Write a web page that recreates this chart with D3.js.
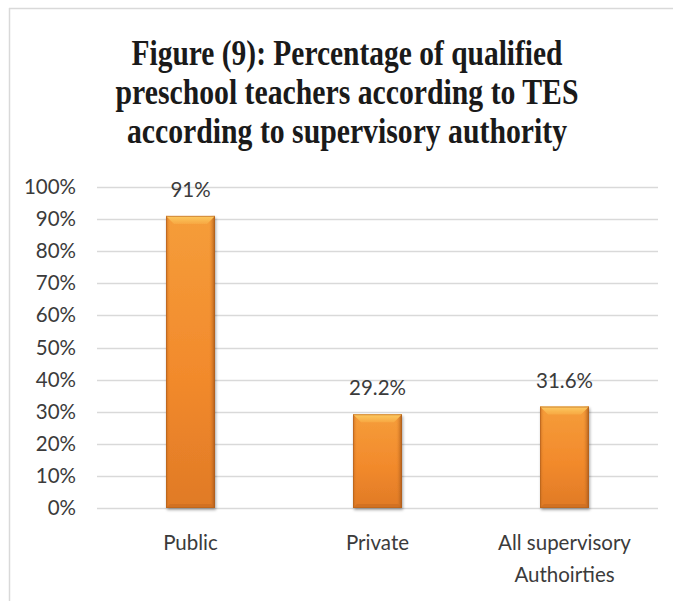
<!DOCTYPE html>
<html>
<head>
<meta charset="utf-8">
<script src="https://cdn.jsdelivr.net/npm/d3@7"></script>
<style>
  html, body { margin: 0; padding: 0; background: #fff; }
  svg { display: block; }
</style>
</head>
<body>
<script>
// Data
const categories = ["Public", "Private", "All supervisory\nAuthoirties"];
const values = [91, 29.2, 31.6];
const valueLabels = ["91%", "29.2%", "31.6%"];
const yTicks = [0, 10, 20, 30, 40, 50, 60, 70, 80, 90, 100];
const titleLines = [
  "Figure (9): Percentage of qualified",
  "preschool teachers according to TES",
  "according to supervisory authority"
];

const W = 673, H = 601;
const plot = { left: 97, right: 658, top: 187, bottom: 508 };

const svg = d3.select("body").append("svg")
  .attr("width", W).attr("height", H);

const defs = svg.append("defs");

// Bar body gradient (vertical)
const gBody = defs.append("linearGradient").attr("id", "barBody")
  .attr("x1", 0).attr("y1", 0).attr("x2", 0).attr("y2", 1);
gBody.append("stop").attr("offset", "0%").attr("stop-color", "#F59D3A");
gBody.append("stop").attr("offset", "55%").attr("stop-color", "#F28A2C");
gBody.append("stop").attr("offset", "100%").attr("stop-color", "#E07A26");

// Side shading (horizontal)
const gSide = defs.append("linearGradient").attr("id", "barSide")
  .attr("x1", 0).attr("y1", 0).attr("x2", 1).attr("y2", 0);
gSide.append("stop").attr("offset", "0%").attr("stop-color", "#B8621C").attr("stop-opacity", 0.75);
gSide.append("stop").attr("offset", "8%").attr("stop-color", "#E8842A").attr("stop-opacity", 0);
gSide.append("stop").attr("offset", "88%").attr("stop-color", "#E8842A").attr("stop-opacity", 0);
gSide.append("stop").attr("offset", "100%").attr("stop-color", "#9A5018").attr("stop-opacity", 0.85);

// Top bevel gradient
const gTop = defs.append("linearGradient").attr("id", "barTop")
  .attr("x1", 0).attr("y1", 0).attr("x2", 0).attr("y2", 1);
gTop.append("stop").attr("offset", "0%").attr("stop-color", "#FDCB62");
gTop.append("stop").attr("offset", "100%").attr("stop-color", "#F7A842");

// Drop shadow
const shadow = defs.append("filter").attr("id", "barShadow")
  .attr("x", "-20%").attr("y", "-5%").attr("width", "140%").attr("height", "115%");
shadow.append("feGaussianBlur").attr("in", "SourceAlpha").attr("stdDeviation", 1.5).attr("result", "b");
shadow.append("feOffset").attr("in", "b").attr("dx", 1).attr("dy", 1.5).attr("result", "o");
shadow.append("feComponentTransfer").attr("in", "o").attr("result", "s")
  .append("feFuncA").attr("type", "linear").attr("slope", 0.35);
const merge = shadow.append("feMerge");
merge.append("feMergeNode").attr("in", "s");
merge.append("feMergeNode").attr("in", "SourceGraphic");

// Frame (top and left edges)
svg.append("line").attr("x1", 9).attr("x2", W).attr("y1", 8.5).attr("y2", 8.5)
  .attr("stroke", "#D9D9D9").attr("stroke-width", 1.5);
svg.append("line").attr("x1", 9.5).attr("x2", 9.5).attr("y1", 8).attr("y2", H)
  .attr("stroke", "#D9D9D9").attr("stroke-width", 1.5);

// Title
const titleWidths = [431, 463, 440];
svg.append("g").selectAll("text").data(titleLines).join("text")
  .attr("x", 347)
  .attr("y", (d, i) => 65 + i * 39)
  .attr("text-anchor", "middle")
  .attr("textLength", (d, i) => titleWidths[i])
  .attr("lengthAdjust", "spacingAndGlyphs")
  .style("font-family", "'Liberation Serif', 'Times New Roman', serif")
  .style("font-weight", "bold")
  .style("font-size", "35px")
  .style("fill", "#1a1a1a")
  .text(d => d);

// Scales
const x = d3.scaleBand().domain(categories)
  .range([plot.left, plot.right])
  .paddingInner(0.738).paddingOuter(0.369);
const y = d3.scaleLinear().domain([0, 100]).range([plot.bottom, plot.top]);

const labelFont = "Lato, 'Open Sans', sans-serif";
const textColor = "#3b3b3b";

// Gridlines
svg.append("g").selectAll("line").data(yTicks).join("line")
  .attr("x1", plot.left).attr("x2", plot.right)
  .attr("y1", d => Math.round(y(d)) + 0.5).attr("y2", d => Math.round(y(d)) + 0.5)
  .attr("stroke", "#D9D9D9").attr("stroke-width", 1.5);

// Y axis labels
const yAxis = d3.axisLeft(y).tickValues(yTicks).tickFormat(d => d + "%").tickSize(0).tickPadding(0);
const yg = svg.append("g").attr("transform", `translate(${plot.left - 21},0)`).call(yAxis);
yg.select(".domain").remove();
yg.selectAll("text")
  .style("font-family", labelFont).style("font-size", "20.5px").style("fill", textColor);

// Bars
const bars = svg.append("g").selectAll("g").data(values).join("g")
  .attr("filter", "url(#barShadow)");
const bw = x.bandwidth();
bars.append("rect")
  .attr("x", (d, i) => x(categories[i]))
  .attr("y", d => y(d))
  .attr("width", bw)
  .attr("height", d => y(0) - y(d))
  .attr("fill", "url(#barBody)");
bars.append("rect")
  .attr("x", (d, i) => x(categories[i]))
  .attr("y", d => y(d))
  .attr("width", bw)
  .attr("height", d => y(0) - y(d))
  .attr("fill", "url(#barSide)");
// top bevel
bars.append("path")
  .attr("d", (d, i) => {
    const x0 = x(categories[i]), x1 = x0 + bw, t = y(d), b = 8;
    return `M${x0},${t} L${x1},${t} L${x1 - b},${t + b} L${x0 + b},${t + b} Z`;
  })
  .attr("fill", "url(#barTop)");
// bottom bevel
bars.append("path")
  .attr("d", (d, i) => {
    const x0 = x(categories[i]), x1 = x0 + bw, bt = y(0), b = 4;
    return `M${x0},${bt} L${x1},${bt} L${x1 - b},${bt - b} L${x0 + b},${bt - b} Z`;
  })
  .attr("fill", "#C86A20").attr("opacity", 0.6);
// outline
bars.append("rect")
  .attr("x", (d, i) => x(categories[i]) + 0.5)
  .attr("y", d => y(d) + 0.5)
  .attr("width", bw - 1)
  .attr("height", d => y(0) - y(d) - 1)
  .attr("fill", "none").attr("stroke", "#B5621E").attr("stroke-opacity", 0.6).attr("stroke-width", 1);

// Value labels
svg.append("g").selectAll("text").data(values).join("text")
  .attr("x", (d, i) => x(categories[i]) + bw / 2)
  .attr("y", d => y(d) - 19)
  .attr("text-anchor", "middle")
  .style("font-family", labelFont).style("font-size", "20.5px").style("fill", textColor)
  .text((d, i) => valueLabels[i]);

// Category labels
const xl = svg.append("g").selectAll("text").data(categories).join("text")
  .attr("x", d => x(d) + bw / 2)
  .attr("y", 550)
  .attr("text-anchor", "middle")
  .style("font-family", labelFont).style("font-size", "20.5px").style("fill", textColor);
xl.selectAll("tspan").data(d => d.split("\n")).join("tspan")
  .attr("x", function() { return d3.select(this.parentNode).attr("x"); })
  .attr("dy", (d, i) => i === 0 ? 0 : 32)
  .text(d => d);
</script>
</body>
</html>
